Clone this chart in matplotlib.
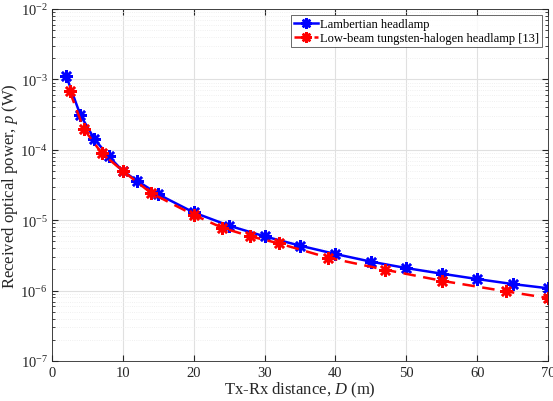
import matplotlib
matplotlib.use("Agg")
import matplotlib.pyplot as plt
from matplotlib.ticker import LogLocator, NullFormatter

plt.rcParams['font.family'] = ['Liberation Serif', 'DejaVu Serif']
plt.rcParams['mathtext.fontset'] = 'custom'
plt.rcParams['mathtext.rm'] = 'Liberation Serif'
plt.rcParams['mathtext.it'] = 'Liberation Serif:italic'

lam_d = [2, 4, 6, 8, 10, 12, 15, 20, 25, 30, 35, 40, 45, 50, 55, 60, 65, 70]
lam_p = [1.13e-3, 3.12e-4, 1.42e-4, 8.1e-5, 5.0e-5, 3.64e-5, 2.33e-5, 1.29e-5,
         8.35e-6, 5.9e-6, 4.35e-6, 3.31e-6, 2.58e-6, 2.09e-6, 1.74e-6, 1.46e-6,
         1.24e-6, 1.08e-6]
hal_d = [2.5, 4.5, 7, 10, 14, 20, 24, 28, 32, 39, 47, 55, 64, 70]
hal_p = [6.78e-4, 1.97e-4, 9.0e-5, 5.0e-5, 2.43e-5, 1.19e-5, 7.83e-6, 5.9e-6,
         4.69e-6, 2.93e-6, 1.98e-6, 1.38e-6, 9.77e-7, 7.85e-7]
labels = ['Lambertian headlamp', 'Low-beam tungsten-halogen headlamp [13]']

fig = plt.figure(figsize=(5.53, 4.02), dpi=100)
ax = fig.add_axes([0.094, 0.0995, 0.897, 0.8755])

ast = (8, 2, 0)
ax.semilogy(lam_d, lam_p, '-', color='#0000ff', lw=1.8, marker=ast, ms=9, mew=1.8,
            label=labels[0])
ax.semilogy(hal_d, hal_p, '--', color='#ff0000', lw=1.8, marker=ast, ms=9, mew=1.8,
            dashes=(5, 3), label=labels[1])

ax.set_xlim(0, 70)
ax.set_ylim(1e-7, 1e-2)
ax.set_xticks(range(0, 71, 10))
ax.yaxis.set_major_locator(LogLocator(base=10, numticks=10))
ax.yaxis.set_minor_locator(LogLocator(base=10, subs=range(2, 10), numticks=20))
ax.yaxis.set_minor_formatter(NullFormatter())

ax.grid(True, which='major', color='#e0e0e0', lw=0.8)
ax.grid(True, which='minor', axis='y', color='#ebebeb', lw=0.6, ls=':')
ax.set_axisbelow(True)

for s in ax.spines.values():
    s.set_color('#262626')
    s.set_linewidth(0.6)
ax.tick_params(which='both', direction='in', top=True, right=True, colors='#262626',
               labelsize=10.5, labelcolor='#262626')
ax.tick_params(which='major', length=4)
ax.tick_params(which='minor', length=2)
ax.tick_params(axis='y', which='major', pad=3)

ax.set_xlabel('Tx-Rx distance, $D$ (m)', fontsize=12, color='#262626', labelpad=1)
ax.set_ylabel('Received optical power, $p$ (W)', fontsize=12, color='#262626', labelpad=0)

leg = ax.legend(loc='upper right', fontsize=9, frameon=True, fancybox=False,
                borderpad=0.25, labelspacing=0.15, handlelength=1.9, handletextpad=0.15,
                borderaxespad=0.5, markerscale=0.85)
leg.get_frame().set_edgecolor('#262626')
leg.get_frame().set_linewidth(0.6)

fig.savefig('out.png', dpi=100)
